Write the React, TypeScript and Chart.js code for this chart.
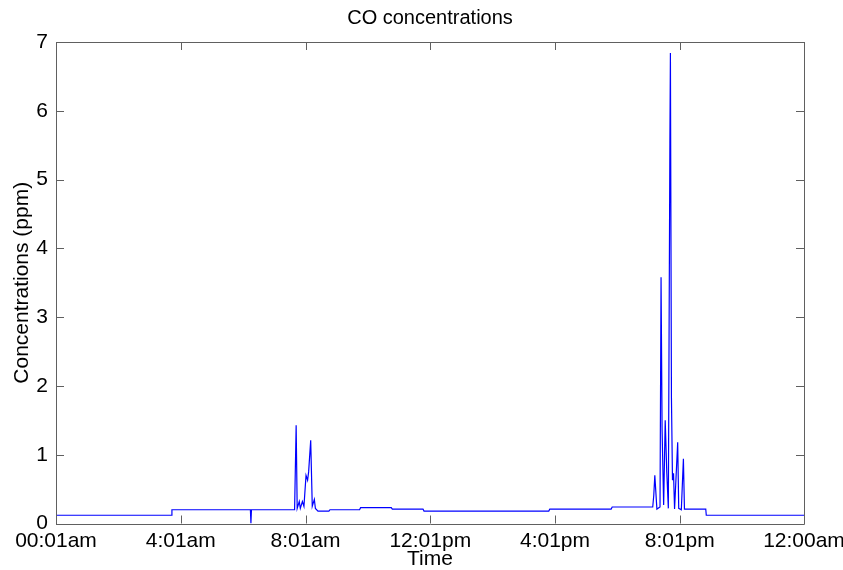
import React, { useEffect, useRef } from "react";
import { Chart, registerables } from "chart.js";

Chart.register(...registerables);

// Minutes after 00:01am
const timeMinutes = [
  0, 222, 223, 374, 375, 376, 459, 462, 464, 468, 470, 474, 477, 481, 484, 486,
  490, 493, 497, 499, 504, 525, 527, 584, 586, 645, 647, 706, 708, 948, 950,
  1068, 1070, 1148, 1150, 1152, 1156, 1162, 1164, 1166, 1169, 1172, 1175, 1178,
  1181, 1182, 1184, 1186, 1188, 1190, 1196, 1198, 1203, 1207, 1209, 1250, 1251,
  1439,
];
const coPpm = [
  0.12, 0.12, 0.2, 0.2, 0.0, 0.2, 0.2, 1.43, 0.22, 0.32, 0.22, 0.32, 0.25, 0.7,
  0.63, 0.75, 1.21, 0.25, 0.35, 0.22, 0.18, 0.18, 0.2, 0.2, 0.23, 0.23, 0.21,
  0.21, 0.18, 0.18, 0.21, 0.21, 0.24, 0.24, 0.41, 0.7, 0.21, 0.24, 3.58, 1.36,
  0.27, 1.5, 0.75, 0.22, 5.53, 6.84, 1.82, 0.63, 0.73, 0.21, 1.18, 0.22, 0.2,
  0.94, 0.21, 0.21, 0.12, 0.12,
];
const xTickValues = [0, 240, 480, 720, 960, 1200, 1439];
const xTickLabels = ["00:01am", "4:01am", "8:01am", "12:01pm", "4:01pm", "8:01pm", "12:00am"];
const yTickValues = [0, 1, 2, 3, 4, 5, 6, 7];
const chartTitle = "CO concentrations";

const FONT = "'Liberation Sans', Arial, sans-serif";

const boxPlugin = {
  id: "matlabBox",
  afterDraw(chart: any) {
    const { ctx, chartArea } = chart;
    const { left, right, top, bottom } = chartArea;
    const xs = chart.scales.x;
    const ys = chart.scales.y;
    const tl = 8;
    ctx.save();
    ctx.strokeStyle = "#606060";
    ctx.lineWidth = 1;
    ctx.beginPath();
    ctx.rect(Math.round(left) + 0.5, Math.round(top) + 0.5, Math.round(right - left), Math.round(bottom - top));
    ctx.stroke();
    ctx.beginPath();
    xTickValues.forEach((v) => {
      const px = Math.round(xs.getPixelForValue(v)) + 0.5;
      ctx.moveTo(px, bottom);
      ctx.lineTo(px, bottom - tl);
      ctx.moveTo(px, top);
      ctx.lineTo(px, top + tl);
    });
    yTickValues.forEach((v) => {
      const py = Math.round(ys.getPixelForValue(v)) + 0.5;
      ctx.moveTo(left, py);
      ctx.lineTo(left + tl, py);
      ctx.moveTo(right, py);
      ctx.lineTo(right - tl, py);
    });
    ctx.stroke();
    // title centred over the plot area
    ctx.fillStyle = "#000";
    ctx.font = "20px " + FONT;
    ctx.textAlign = "center";
    ctx.textBaseline = "middle";
    ctx.fillText(chartTitle, (left + right) / 2, 18);
    ctx.restore();
  },
};

export default function App() {
  const ref = useRef<HTMLCanvasElement | null>(null);
  useEffect(() => {
    document.body.style.margin = "0";
    const canvas = ref.current;
    if (!canvas) return;
    const chart = new Chart(canvas, {
      type: "line",
      data: {
        datasets: [
          {
            data: timeMinutes.map((t, i) => ({ x: t, y: coPpm[i] })),
            borderColor: "#0000ff",
            borderWidth: 1.2,
            pointRadius: 0,
            tension: 0,
            fill: false,
          },
        ],
      },
      options: {
        responsive: false,
        animation: false,
        layout: { padding: { right: 39, left: 0, top: 42, bottom: 0 } },
        plugins: {
          legend: { display: false },
          tooltip: { enabled: false },
          title: { display: false },
        },
        scales: {
          x: {
            type: "linear",
            min: 0,
            max: 1439,
            grid: { display: false, drawTicks: false },
            border: { display: false },
            afterBuildTicks: (scale: any) => {
              scale.ticks = xTickValues.map((v) => ({ value: v }));
            },
            afterFit: (scale: any) => {
              scale.height = 46.5;
              scale.paddingLeft = 0;
              scale.paddingRight = 0;
            },
            ticks: {
              autoSkip: false,
              maxRotation: 0,
              padding: 5,
              color: "#000",
              font: { family: FONT, size: 21 },
              callback: (v: any) => {
                const i = xTickValues.indexOf(Number(v));
                return i >= 0 ? xTickLabels[i] : "";
              },
            },
            title: {
              display: true,
              text: "Time",
              color: "#000",
              font: { family: FONT, size: 21, lineHeight: 1 },
              padding: { top: 0, bottom: 0 },
            },
          },
          y: {
            type: "linear",
            min: 0,
            max: 7,
            grid: { display: false, drawTicks: false },
            border: { display: false },
            afterBuildTicks: (scale: any) => {
              scale.ticks = yTickValues.map((v) => ({ value: v }));
            },
            afterFit: (scale: any) => {
              scale.width = 56;
              scale.paddingTop = 0;
              scale.paddingBottom = 0;
            },
            ticks: {
              padding: 8,
              color: "#000",
              font: { family: FONT, size: 21 },
            },
            title: {
              display: true,
              text: "Concentrations (ppm)",
              color: "#000",
              font: { family: FONT, size: 21, lineHeight: 1 },
              padding: { top: 12, bottom: 0 },
            },
          },
        },
      },
      plugins: [boxPlugin],
    });
    return () => chart.destroy();
  }, []);
  return (
    <div style={{ width: 843, height: 570, background: "#fff" }}>
      <canvas ref={ref} width={843} height={570} style={{ display: "block" }} />
    </div>
  );
}
